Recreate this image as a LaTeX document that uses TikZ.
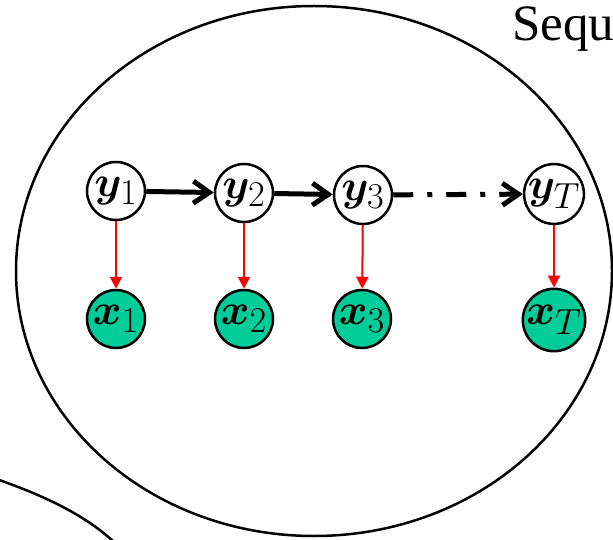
\documentclass[tikz,border=0pt]{standalone}
\usepackage{graphicx}
\usepackage{bm}
\usepackage{fontspec}
\newfontfamily\seqfont{Liberation Serif}
\usetikzlibrary{arrows.meta}
\definecolor{obsgreen}{RGB}{0,204,153}
% variable label, enlarged past the largest fixed math size
\newcommand\varlabel[1]{\scalebox{1.75}{\Huge$#1$}}
\begin{document}
\begin{tikzpicture}[x=1pt,y=-1pt,
  hidden/.style={circle,draw,line width=2.5pt,minimum size=58pt,inner sep=0pt,
    fill=white},
  observed/.style={hidden,fill=obsgreen},
  trans/.style={line width=5pt,-{Straight Barb[length=16pt,width=22pt]}},
  emit/.style={red,line width=2pt,-{Triangle[length=12pt,width=12pt]}},
  outline/.style={line width=2.5pt}]
\useasboundingbox (0,0) rectangle (613,540);
\clip (0,0) rectangle (613,540);

% outer plate and the neighbouring one
\draw[outline] (314,271) ellipse [x radius=298, y radius=265];
\draw[outline] (-12,476) .. controls (40,494) and (90,515) .. (124,552);

% label
\node[anchor=base west,inner sep=0pt,font=\seqfont\fontsize{51}{51}\selectfont] (title) at (512,41) {Sequ};

% hidden states
\node[hidden] (y1) at (116,191) {\varlabel{\bm{y}_1}};
\node[hidden] (y2) at (244,193) {\varlabel{\bm{y}_2}};
\node[hidden] (y3) at (363,195) {\varlabel{\bm{y}_3}};
\node[hidden] (yT) at (554,194) {\varlabel{\bm{y}_T}};

% observations
\node[observed] (x1) at (116,319) {\varlabel{\bm{x}_1}};
\node[observed] (x2) at (244,319) {\varlabel{\bm{x}_2}};
\node[observed] (x3) at (362,319) {\varlabel{\bm{x}_3}};
\node[observed] (xT) at (554,320) {\varlabel{\bm{x}_T}};

% transitions
\draw[trans] (y1) -- (y2);
\draw[trans] (y2) -- (y3);
\draw[trans,dash pattern=on 20pt off 14pt on 5pt off 14pt] (y3) -- (yT);

% emissions
\draw[emit] (y1) -- (x1);
\draw[emit] (y2) -- (x2);
\draw[emit] (y3) -- (x3);
\draw[emit] (yT) -- (xT);
\end{tikzpicture}
\end{document}
